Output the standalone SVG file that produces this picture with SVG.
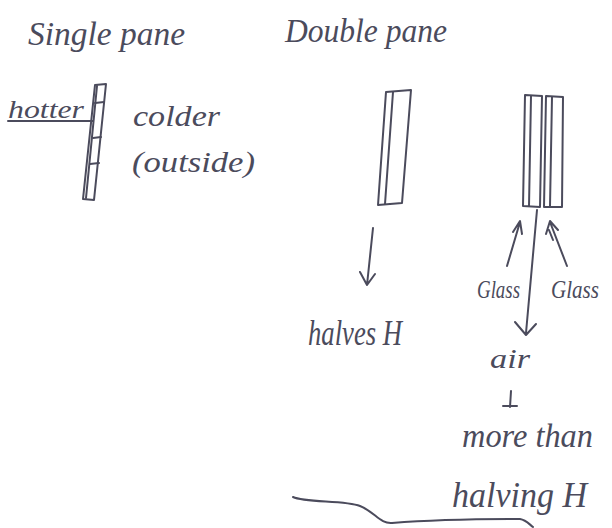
<svg xmlns="http://www.w3.org/2000/svg" width="612" height="528" viewBox="0 0 612 528">
<style>
.ink{fill:none;stroke:#4b4b5c;stroke-width:2;stroke-linecap:round;stroke-linejoin:round}
.t{font-family:"Liberation Serif",serif;font-style:italic;fill:#4b4b5c}
</style>
<rect width="612" height="528" fill="#ffffff"/>
<g id="title-single"><text class="t" x="28" y="45" font-size="34" textLength="157" lengthAdjust="spacingAndGlyphs">Single pane</text></g>
<g id="title-double"><text class="t" x="285" y="42" font-size="34" textLength="162" lengthAdjust="spacingAndGlyphs">Double pane</text></g>
<g id="single-pane">
<path class="ink" d="M95,85 L106,84 L94,200 L83,199 Z"/>
<path class="ink" d="M97,86 L86,198"/>
<path class="ink" d="M95,103 L104,102 M93,138 L101,137 M90,164 L99,163" stroke-width="1.5"/>
</g>
<g id="hotter"><text class="t" x="8" y="118" font-size="26" textLength="76" lengthAdjust="spacingAndGlyphs">hotter</text></g>
<g id="colder"><text class="t" x="133" y="126" font-size="30" textLength="87" lengthAdjust="spacingAndGlyphs">colder</text></g>
<g id="outside"><text class="t" x="132" y="172" font-size="30" textLength="123" lengthAdjust="spacingAndGlyphs">(outside)</text></g>
<g id="double-left">
<path class="ink" d="M386,92 L411,90 L402,203 L378,205 Z"/>
<path class="ink" d="M393,92 L385,204"/>
</g>
<g id="double-right">
<path class="ink" d="M525,95 L542,96 L540,207 L523,206 Z"/>
<path class="ink" d="M531,96 L529,206"/>
<path class="ink" d="M546,96 L563,97 L562,207 L544,207 Z"/>
<path class="ink" d="M552,97 L550,206"/>
</g>
<g id="halves"><text class="t" x="308" y="345" font-size="36" textLength="94" lengthAdjust="spacingAndGlyphs">halves H</text></g>
<g id="glass-left"><text class="t" x="477" y="298" font-size="26" textLength="43" lengthAdjust="spacingAndGlyphs">Glass</text></g>
<g id="glass-right"><text class="t" x="551" y="298" font-size="25" textLength="48" lengthAdjust="spacingAndGlyphs">Glass</text></g>
<g id="air"><text class="t" x="490" y="368" font-size="28" textLength="40" lengthAdjust="spacingAndGlyphs">air</text></g>
<g id="more-than"><text class="t" x="462" y="447" font-size="34" textLength="131" lengthAdjust="spacingAndGlyphs">more than</text></g>
<g id="halving"><text class="t" x="452" y="507" font-size="36" textLength="135" lengthAdjust="spacingAndGlyphs">halving H</text></g>
<g id="connectors">
<path class="ink" d="M8,121 L93,121"/>
<path class="ink" d="M373,228 L367,285 M360,272 L367,285 L375,274"/>
<path class="ink" d="M537,210 L526,333 M515,322 L526,335 L536,324"/>
<path class="ink" d="M507,266 L520,222 M513,232 L520,221 L522,234"/>
<path class="ink" d="M567,266 L550,222 M546,234 L550,221 L558,230 M549,230 L553,240"/>
<path class="ink" d="M511,391 L510,407 M503,406 L517,406" stroke-width="1.6"/>
<path class="ink" d="M293,497 C305,503 345,500 360,506 C375,512 380,524 392,523 C430,520 480,519 520,519 C526,520 529,524 533,527"/>
</g>
</svg>
